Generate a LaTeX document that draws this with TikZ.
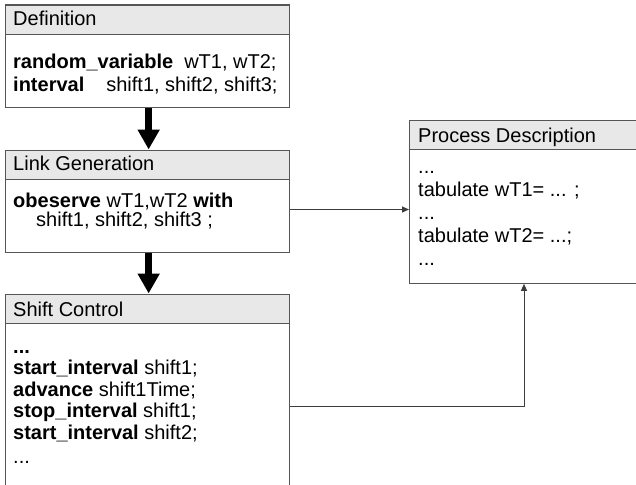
\documentclass[tikz,border=0pt]{standalone}
\usepackage{fontspec}
\setmainfont{Liberation Sans}
\usetikzlibrary{arrows.meta}

\definecolor{boxc}{RGB}{85,85,85}
\definecolor{hdrc}{RGB}{232,232,232}
\definecolor{connc}{RGB}{60,60,60}

\begin{document}
\begin{tikzpicture}[x=1pt,y=-1pt,
  font=\fontsize{20pt}{24pt}\selectfont,
  box/.style={draw=boxc, line width=1.3pt, fill=white, rectangle, inner sep=0pt,
    anchor=north west,
    path picture={
      \fill[hdrc] (path picture bounding box.north west) rectangle
        ([yshift=-29.5pt]path picture bounding box.north east);
      \draw[boxc, line width=1.3pt] ([yshift=-29.5pt]path picture bounding box.north west)
        -- ([yshift=-29.5pt]path picture bounding box.north east);
    }},
  txt/.style={anchor=base west, inner sep=0pt, text=black},
  flow/.style={line width=7pt, black, -{Triangle[length=20pt,width=21pt]}},
  conn/.style={line width=1pt, connc, -{Triangle[length=7pt,width=6pt]}}]

\useasboundingbox (0,0) rectangle (636,484);
\clip (0,0) rectangle (636,484);

% boxes
\node[box, minimum width=284pt, minimum height=102pt] (def) at (4.5,4.5) {};
\node[box, minimum width=284pt, minimum height=102pt] (link) at (4.5,149.5) {};
\node[box, minimum width=284pt, minimum height=210pt] (shift) at (4.5,293.5) {};
\node[box, minimum width=240pt, minimum height=163pt] (proc) at (409,119.5) {};

% Definition
\node[txt] (defhead) at (13,26) {Definition};
\node[txt] (defl1) at (13,69) {\textbf{random\_variable}\hspace{11pt}wT1, wT2;};
\node[txt] (defl2) at (13,91.5) {\textbf{interval}\hspace{22pt}shift1, shift2, shift3;};

% Link Generation
\node[txt] (linkhead) at (13,170.5) {Link Generation};
\node[txt] (linkl1) at (13,207) {\textbf{obeserve} wT1,wT2 \textbf{with}};
\node[txt] (linkl2) at (36,226) {shift1, shift2, shift3 ;};

% Shift Control
\node[txt] (shifthead) at (13,316) {Shift Control};
\node[txt] (shiftl0) at (13,353) {\textbf{...}};
\node[txt] (shiftl1) at (13,374.5) {\textbf{start\_interval} shift1;};
\node[txt] (shiftl2) at (13,396) {\textbf{advance} shift1Time;};
\node[txt] (shiftl3) at (13,417.5) {\textbf{stop\_interval} shift1;};
\node[txt] (shiftl4) at (13,439) {\textbf{start\_interval} shift2;};
\node[txt] (shiftl5) at (13,463) {...};

% Process Description
\node[txt] (prochead) at (418,142) {Process Description};
\node[txt] (procl0) at (418,173) {...};
\node[txt] (procl1) at (418,196) {tabulate wT1= ... ;};
\node[txt] (procl2) at (418,219) {...};
\node[txt] (procl3) at (418,242) {tabulate wT2= ...;};
\node[txt] (procl4) at (418,265) {...};

% connectors
\draw[flow] ([xshift=1.5pt]def.south) -- ([xshift=1.5pt]link.north);
\draw[flow] ([xshift=1.5pt]link.south) -- ([xshift=1.5pt]shift.north);
\draw[conn] ([yshift=-60pt]link.north east) -- ([yshift=-60pt]link.north east -| proc.west);
\draw[conn] ([yshift=-113pt]shift.north east) -| ([xshift=115pt]proc.south west);

\end{tikzpicture}
\end{document}
